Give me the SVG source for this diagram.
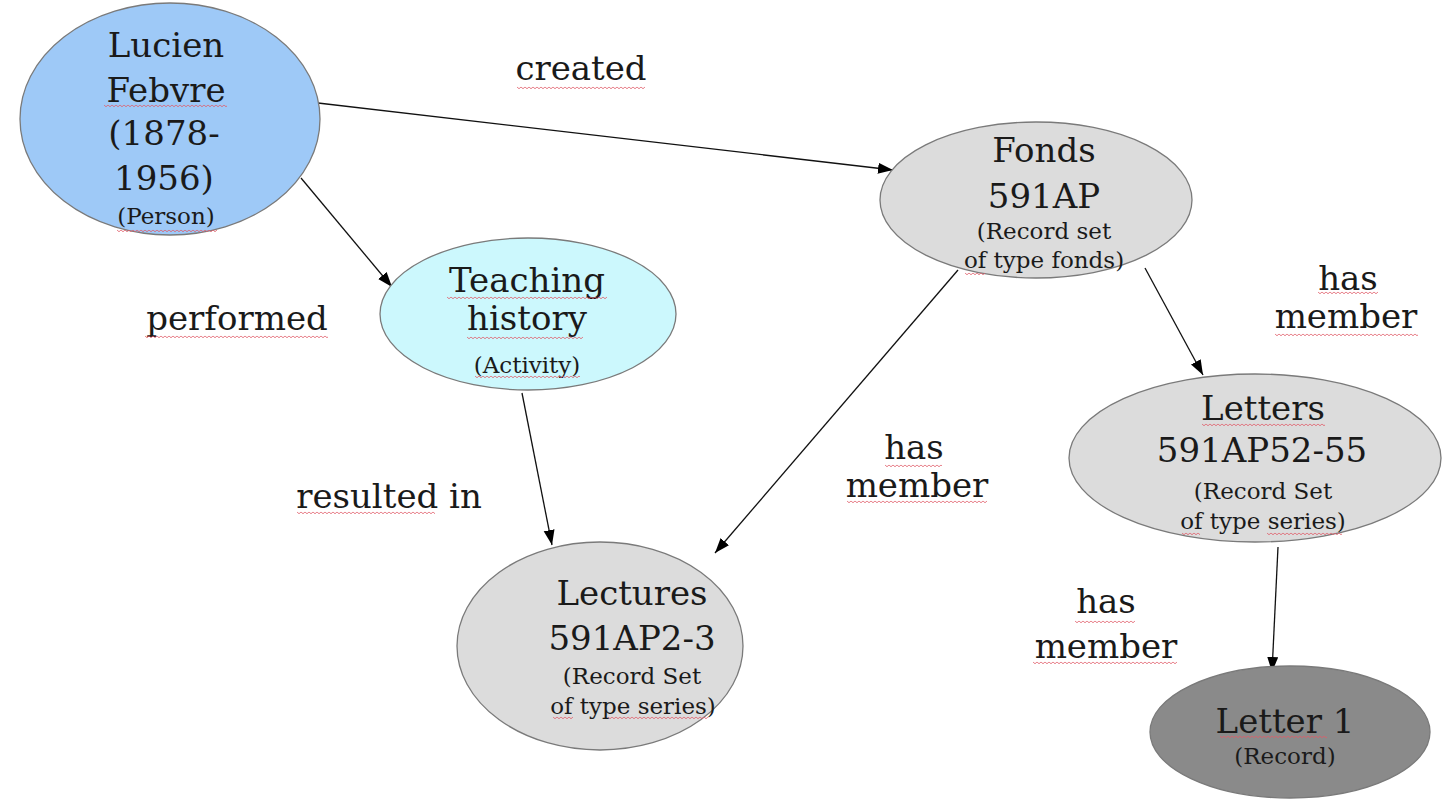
<svg xmlns="http://www.w3.org/2000/svg" width="1444" height="801" viewBox="0 0 1444 801">
<style>
.node{stroke:#7a7a7a;stroke-width:1.3}
.big{font-family:"DejaVu Serif","Liberation Serif",serif;font-size:34px;fill:#1a1a1a;text-anchor:middle}
.small{font-family:"DejaVu Serif","Liberation Serif",serif;font-size:23px;fill:#1a1a1a;text-anchor:middle}
.lbl{font-family:"DejaVu Serif","Liberation Serif",serif;font-size:34px;fill:#1a1a1a;text-anchor:middle}
.edge{stroke:#111;stroke-width:1.3;fill:none;marker-end:url(#arr)}
.sq{fill:url(#wave)}
</style>
<defs>
<marker id="arr" markerUnits="userSpaceOnUse" markerWidth="16" markerHeight="12" refX="15" refY="5.5" orient="auto">
<path d="M0,0 L15,5.5 L0,11 z" fill="#000"/>
</marker>
<pattern id="wave" patternUnits="userSpaceOnUse" width="4" height="4">
<path d="M0,0.8 L2,2.8 L4,0.8" fill="none" stroke="#e05a68" stroke-width="0.9"/>
</pattern>
</defs>
<rect width="1444" height="801" fill="#ffffff"/>

<g id="edges">
<line class="edge" x1="318" y1="103" x2="893" y2="170"/>
<line class="edge" x1="301" y1="178" x2="392" y2="287"/>
<line class="edge" x1="522" y1="393" x2="552" y2="545"/>
<line class="edge" x1="958" y1="270" x2="715" y2="553"/>
<line class="edge" x1="1145" y1="268" x2="1203" y2="375"/>
<line class="edge" x1="1278" y1="547" x2="1272" y2="672"/>
</g>

<g id="node-lucien">
<ellipse class="node" cx="170" cy="119" rx="150" ry="116" fill="#9ec9f7"/>
<text class="big" x="166" y="57">Lucien</text>
<text class="big" x="166" y="102">Febvre</text>
<text class="big" x="164" y="145">(1878-</text>
<text class="big" x="164" y="190">1956)</text>
<text class="small" x="166" y="224">(Person)</text>
</g>

<g id="node-fonds">
<ellipse class="node" cx="1036" cy="200" rx="156" ry="78" fill="#dcdcdc"/>
<text class="big" x="1044" y="162">Fonds</text>
<text class="big" x="1044" y="208">591AP</text>
<text class="small" x="1044" y="239">(Record set</text>
<text class="small" x="1044" y="268">of type fonds)</text>
</g>

<g id="node-teaching">
<ellipse class="node" cx="528" cy="314" rx="148" ry="76" fill="#ccf8fd"/>
<text class="big" x="527" y="292">Teaching</text>
<text class="big" x="527" y="330">history</text>
<text class="small" x="527" y="373">(Activity)</text>
</g>

<g id="node-lectures">
<ellipse class="node" cx="600" cy="646" rx="143" ry="104" fill="#dcdcdc"/>
<text class="big" x="632" y="605">Lectures</text>
<text class="big" x="632" y="650">591AP2-3</text>
<text class="small" x="632" y="684">(Record Set</text>
<text class="small" x="633" y="714">of type series)</text>
</g>

<g id="node-letters">
<ellipse class="node" cx="1255" cy="458" rx="186" ry="84" fill="#dcdcdc"/>
<text class="big" x="1263" y="420">Letters</text>
<text class="big" x="1262" y="462">591AP52-55</text>
<text class="small" x="1263" y="499">(Record Set</text>
<text class="small" x="1263" y="529">of type series)</text>
</g>

<g id="node-letter1">
<ellipse class="node" cx="1290" cy="732" rx="140" ry="66" fill="#8a8a8a"/>
<text class="big" x="1285" y="733">Letter 1</text>
<text class="small" x="1285" y="764">(Record)</text>
</g>

<g id="labels">
<text class="lbl" x="581" y="80">created</text>
<text class="lbl" x="237" y="330">performed</text>
<text class="lbl" x="389" y="508">resulted in</text>
<text class="lbl" x="914" y="459">has</text>
<text class="lbl" x="917" y="497">member</text>
<text class="lbl" x="1348" y="290">has</text>
<text class="lbl" x="1346" y="328">member</text>
<text class="lbl" x="1106" y="613">has</text>
<text class="lbl" x="1106" y="658">member</text>
</g>

<g id="spellcheck">
<rect class="sq" transform="translate(104,104)" width="123" height="4"/>
<rect class="sq" transform="translate(117,229)" width="100" height="4"/>
<rect class="sq" transform="translate(965,272)" width="20" height="4"/>
<rect class="sq" transform="translate(447,296)" width="160" height="4"/>
<rect class="sq" transform="translate(467,336)" width="116" height="4"/>
<rect class="sq" transform="translate(475,375)" width="105" height="4"/>
<rect class="sq" transform="translate(145,335)" width="183" height="4"/>
<rect class="sq" transform="translate(297,511)" width="138" height="4"/>
<rect class="sq" transform="translate(517,86)" width="128" height="4"/>
<rect class="sq" transform="translate(885,464)" width="57" height="4"/>
<rect class="sq" transform="translate(847,500)" width="140" height="4"/>
<rect class="sq" transform="translate(1318,291)" width="60" height="4"/>
<rect class="sq" transform="translate(1275,333)" width="143" height="4"/>
<rect class="sq" transform="translate(553,716)" width="20" height="4"/>
<rect class="sq" transform="translate(608,716)" width="100" height="4"/>
<rect class="sq" transform="translate(1202,423)" width="123" height="4"/>
<rect class="sq" transform="translate(1182,532)" width="18" height="4"/>
<rect class="sq" transform="translate(1267,532)" width="75" height="4"/>
<rect class="sq" transform="translate(1075,620)" width="60" height="4"/>
<rect class="sq" transform="translate(1033,661)" width="144" height="4"/>
<rect class="sq" transform="translate(1220,735)" width="107" height="4"/>
</g>
</svg>
